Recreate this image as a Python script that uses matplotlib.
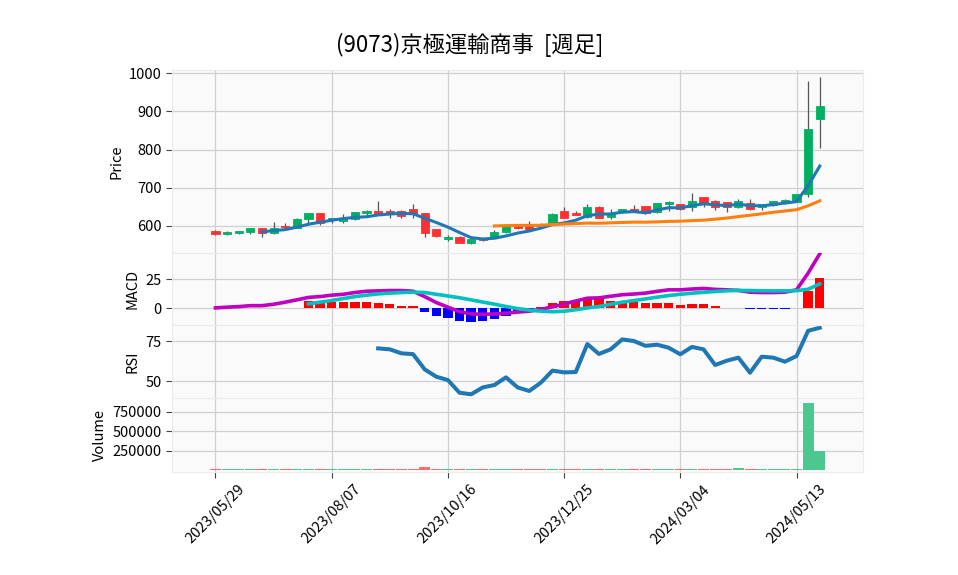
import matplotlib
matplotlib.use("Agg")
import matplotlib.pyplot as plt
import numpy as np
import pandas as pd

plt.rcParams['font.family'] = ['Noto Sans CJK JP', 'DejaVu Sans']

# weekly candles, 2023/05/29 .. 2024/05/27
dates = pd.date_range("2023-05-29", periods=53, freq="7D")
opens = [586, 577, 582, 584, 593, 580, 598, 595, 618, 632,
         614, 611, 617, 634, 639, 639, 639, 643, 632, 590,
         566, 570, 555, 566, 570, 583, 600, 600, 603, 606,
         639, 634, 622, 650, 624, 635, 644, 652, 635, 657,
         657, 650, 675, 666, 661, 648, 659, 648, 655, 659,
         663, 683, 880]
highs = [588, 585, 587, 594, 594, 609, 608, 621, 633, 633,
         620, 630, 636, 640, 665, 643, 640, 657, 633, 591,
         576, 574, 565, 568, 589, 601, 602, 611, 606, 632,
         648, 639, 657, 651, 643, 645, 654, 653, 660, 666,
         658, 685, 676, 667, 662, 669, 669, 658, 665, 669,
         684, 981, 990]
lows = [575, 575, 578, 577, 571, 577, 591, 594, 608, 603,
        608, 608, 616, 628, 628, 621, 619, 619, 570, 570,
        561, 554, 551, 560, 568, 582, 592, 590, 598, 603,
        619, 628, 620, 619, 618, 634, 635, 630, 633, 639,
        641, 639, 650, 641, 635, 646, 642, 641, 653, 657,
        662, 675, 803]
closes = [577, 583, 586, 593, 580, 593, 596, 618, 632, 606,
          619, 618, 635, 639, 630, 631, 626, 631, 580, 574,
          570, 555, 564, 562, 584, 600, 593, 591, 600, 631,
          621, 629, 650, 621, 633, 644, 637, 634, 659, 662,
          643, 664, 659, 648, 648, 664, 644, 657, 664, 668,
          683, 854, 914]
volumes = [12000, 11000, 10000, 12000, 13000, 11000, 10000, 12000, 11000, 14000,
           10000, 11000, 10000, 11000, 12000, 13000, 10000, 12000, 36000, 15000,
           13000, 12000, 11000, 12000, 11000, 10000, 12000, 11000, 12000, 13000,
           11000, 10000, 13000, 14000, 12000, 11000, 12000, 13000, 11000, 10000,
           12000, 11000, 13000, 14000, 12000, 30000, 13000, 12000, 11000, 12000,
           13000, 857000, 241000]

macd = [0.3, 0.9, 1.4, 2.2, 2.2, 3.4, 5.2, 7.2, 9.3, 10.0,
        11.2, 12.0, 13.5, 14.6, 14.9, 15.2, 15.2, 14.6, 10.0, 4.9,
        0.9, -2.9, -4.9, -5.2, -4.9, -4.3, -3.3, -2.5, -1.0, 1.2,
        3.6, 6.2, 8.6, 8.9, 10.3, 11.6, 12.2, 13.0, 14.5, 15.8,
        15.8, 16.5, 17.0, 16.2, 15.8, 15.3, 13.8, 13.5, 13.5, 13.8,
        15.8, 30.2, 46.8]
signal = [None] * 8 + [
    3.7, 5.2, 6.6, 8.3, 10.0, 11.2, 12.3, 13.0, 13.5, 13.8,
    13.5, 12.0, 10.5, 9.0, 7.2, 5.3, 3.5, 1.5, -0.3, -1.6,
    -2.5, -3.0, -2.6, -1.3, 0.3, 1.5, 3.4, 5.2, 6.6, 8.0,
    9.5, 10.9, 12.0, 12.9, 13.7, 14.4, 15.0, 15.3, 15.2, 15.0,
    14.9, 14.9, 15.1, 16.3, 20.9]
hist = [None] * 8 + [
    6.3, 5.2, 5.2, 5.7, 5.7, 5.2, 4.3, 3.4, 1.7, 1.7,
    -3.0, -6.3, -8.0, -10.9, -11.8, -10.6, -8.9, -6.5, -3.5, -1.5,
    1.4, 4.3, 6.3, 7.2, 8.0, 8.0, 6.3, 5.7, 5.7, 4.9,
    4.9, 4.9, 2.9, 3.7, 3.7, 2.0, 0.2, 0.2, -1.0, -1.0,
    -1.0, -1.0, 0.2, 14.4, 25.9]
rsi = [None] * 14 + [
    70.4, 69.8, 67.3, 66.8, 57.3, 52.7, 50.6, 42.7, 41.7, 46.0,
    47.5, 52.3, 46.0, 43.8, 49.0, 56.5, 55.4, 55.6, 73.1, 66.9,
    69.8, 76.0, 75.0, 72.0, 72.7, 70.8, 66.7, 71.3, 69.8, 60.0,
    62.7, 64.6, 55.2, 65.2, 64.6, 62.1, 65.6, 81.4, 83.3]

tick_idx = [0, 10, 20, 30, 40, 50]

UP, DOWN = '#00b060', '#fe3032'
VUP, VDOWN = '#4dc790', '#fd6b6c'
BG, GRID = '#fafafa', '#d0d0d0'

x = np.arange(len(dates))
o = np.array(opens, float)
c = np.array(closes, float)
up = c >= o
close_s = pd.Series(closes, dtype=float)
ma5 = close_s.rolling(5).mean()
ma25 = close_s.rolling(25).mean()

fig = plt.figure(figsize=(9.58, 5.75), dpi=100)
L, W = 172 / 958, 691 / 958


def panel(top, bottom):
    ax = fig.add_axes([L, 1 - bottom / 575, W, (bottom - top) / 575])
    ax.set_facecolor(BG)
    ax.grid(True, color=GRID, lw=0.9)
    ax.set_axisbelow(True)
    for s in ax.spines.values():
        s.set_color('#ececec')
    ax.tick_params(axis='y', labelsize=10.5, length=4, color='#444444')
    ax.set_xlim(-3.74, 55.72)
    ax.set_xticks(tick_idx)
    return ax


ax1 = panel(70, 252.7)
ax2 = panel(252.7, 325)
ax3 = panel(325, 398)
ax4 = panel(398, 472)

# price
ax1.vlines(x, lows, highs, color='#555555', lw=0.9, zorder=2)
ax1.bar(x, np.abs(c - o), bottom=np.minimum(o, c), width=0.7,
        color=np.where(up, UP, DOWN), edgecolor=np.where(up, UP, DOWN),
        lw=0.6, zorder=3)
ax1.plot(x, ma5, color='#1f77b4', lw=2.2, zorder=4)
ax1.plot(x, ma25, color='#ff7f0e', lw=2.2, zorder=4)
ax1.set_ylim(529, 1009)
ax1.set_yticks([600, 700, 800, 900, 1000])
ax1.set_ylabel('Price', fontsize=10.5)

# MACD
hv = np.array([np.nan if v is None else v for v in hist])
ax2.bar(x, np.nan_to_num(hv), width=0.8,
        color=np.where(np.nan_to_num(hv) >= 0, 'red', 'blue'), zorder=2)
ax2.plot(x, macd, color='#c000c0', lw=2.6, zorder=3)
ax2.plot(x, [np.nan if v is None else v for v in signal], color='#00c0c0', lw=2.6, zorder=3)
ax2.set_ylim(-14.4, 47.7)
ax2.set_yticks([0, 25])
ax2.set_ylabel('MACD', fontsize=10.5)

# RSI
ax3.plot(x, [np.nan if v is None else v for v in rsi], color='#1f77b4', lw=2.9)
ax3.set_ylim(39.4, 85)
ax3.set_yticks([50, 75])
ax3.set_ylabel('RSI', fontsize=10.5)

# Volume
ax4.bar(x, volumes, width=0.95, color=np.where(up, VUP, VDOWN), zorder=2)
ax4.set_ylim(-23000, 925000)
ax4.set_yticks([250000, 500000, 750000])
ax4.set_ylabel('Volume', fontsize=10.5)

for ax in (ax1, ax2, ax3):
    ax.tick_params(axis='x', length=0, labelbottom=False)
ax4.set_xticklabels([dates[i].strftime('%Y/%m/%d') for i in tick_idx],
                    rotation=45, ha='center', fontsize=10.5)
ax4.tick_params(axis='x', length=4, color='#444444')

fig.text(0.49, 0.921, '(9073)京極運輸商事  [週足]', ha='center', va='center', fontsize=16)

fig.savefig('out.png', dpi=100)
